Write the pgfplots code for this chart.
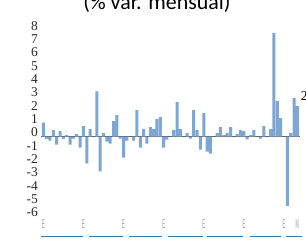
\documentclass[border=0pt]{standalone}
\usepackage{pgfplots}
\pgfplotsset{compat=1.18}
\usepackage{pgfplotstable}
\usepackage{graphicx}
\usepackage{fontspec}
\setmainfont{Liberation Serif}
\newfontfamily\titlefont{Carlito}
\newfontfamily\labfont{Liberation Sans}
\definecolor{barblue}{HTML}{7EA6D3}
\definecolor{grpblue}{HTML}{2E78B8}
\definecolor{zerogray}{HTML}{5A5A5A}
\newcommand\nE{\scalebox{0.3}[1]{E}}
\newcommand\nM{\scalebox{0.3}[1]{M}}
\pgfplotstableread{
i v
0 1.05
1 -0.17
2 -0.3
3 0.5
4 -0.6
5 0.42
6 -0.17
7 0.12
8 -0.6
9 -0.15
10 0.2
11 -0.82
12 0.8
13 -2.0
14 0.57
15 0
16 3.4
17 -2.6
18 0.27
19 -0.37
20 -0.52
21 1.18
22 1.63
23 -0.15
24 -1.58
25 -0.3
26 0
27 -0.3
28 2.0
29 -0.82
30 0.57
31 -0.52
32 0.72
33 0.57
34 1.32
35 1.47
36 -0.82
37 -0.22
38 0
39 0.5
40 2.6
41 0.57
42 0
43 0.27
44 -0.15
45 2.0
46 0.5
47 -0.97
48 1.78
49 -1.12
50 -1.27
51 0
52 0.27
53 0.72
54 0.12
55 0.27
56 0.72
57 0
58 0.2
59 0.5
60 0.42
61 -0.2
62 0.12
63 0.5
64 0
65 -0.15
66 0.8
67 0
68 0.57
69 7.8
70 2.68
71 1.4
72 0
73 -5.2
74 0.27
75 2.9
76 2.3
}\datatable
\begin{document}
\begin{tikzpicture}
\useasboundingbox (-41.3bp,-25.5bp) rectangle (264.7bp,216.5bp);
\node[font=\titlefont\fontsize{22}{22}\selectfont, anchor=base, inner sep=0pt] at (115.7bp,206.8bp) {(\% var. mensual)};
\begin{axis}[
  at={(0,0)}, anchor=south west,
  scale only axis, width=258.4bp, height=186.2bp,
  xmin=-0.6, xmax=76.7, ymin=-6, ymax=8,
  axis line style={draw=none},
  major tick length=0pt,
  ytick={-6,-5,-4,-3,-2,-1,0,1,2,3,4,5,6,7,8},
  yticklabels={-6,-5,-4,-3,-2,-1,0,1,2,3,4,5,6,7,8},
  yticklabel style={font=\fontsize{13.5}{13.5}\selectfont, text=black!85, anchor=east, inner sep=0pt, xshift=-3.3bp, yshift=4.3bp},
  xtick={0,12,24,36,48,60,72,76},
  xticklabels={\nE,\nE,\nE,\nE,\nE,\nE,\nE,\nM},
  xticklabel style={font=\labfont\fontsize{13}{13}\selectfont, text=gray!80, anchor=north, inner sep=0pt, yshift=-2.5bp},
  clip=false,
  ybar, bar width=3bp,
]
\draw[zerogray, line width=0.9bp] (axis cs:-0.6,0) -- (axis cs:76.7,0);
\addplot[draw=none, fill=barblue] table[x=i, y=v] {\datatable};
\node[anchor=west, inner sep=0pt, font=\fontsize{13.5}{13.5}\selectfont] at (axis cs:77.0,2.95) {2,3};
\draw[grpblue, line width=1.1bp] (axis cs:-0.69,-7.47) -- (axis cs:11.8,-7.47);
\draw[grpblue, line width=1.1bp] (axis cs:13.7,-7.47) -- (axis cs:23.8,-7.47);
\draw[grpblue, line width=1.1bp] (axis cs:25.6,-7.47) -- (axis cs:35.5,-7.47);
\draw[grpblue, line width=1.1bp] (axis cs:37.2,-7.47) -- (axis cs:47.8,-7.47);
\draw[grpblue, line width=1.1bp] (axis cs:49.0,-7.47) -- (axis cs:59.8,-7.47);
\draw[grpblue, line width=1.1bp] (axis cs:61.9,-7.47) -- (axis cs:71.1,-7.47);
\draw[grpblue, line width=1.1bp] (axis cs:72.5,-7.47) -- (axis cs:77.4,-7.47);
\end{axis}
\end{tikzpicture}
\end{document}
